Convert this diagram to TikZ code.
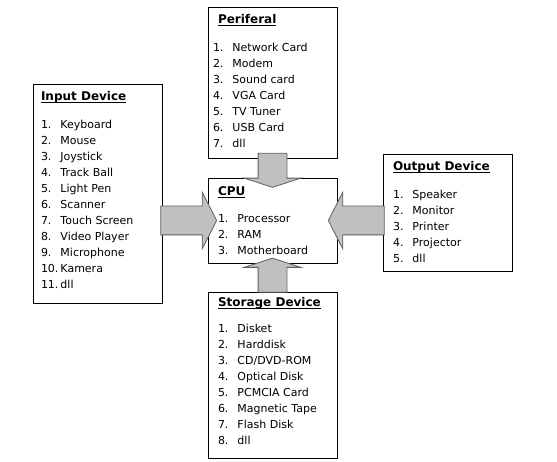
\documentclass[tikz,border=0pt]{standalone}
\usepackage{fontspec}
\setmainfont{DejaVu Sans}
\usetikzlibrary{calc,shapes.arrows}

\definecolor{arrowfill}{HTML}{C0C0C0}
\definecolor{arrowline}{HTML}{5F5F5F}

\newsavebox{\titlebox}
\newcommand{\boxtitle}[1]{\sbox{\titlebox}{\fontsize{12pt}{16pt}\selectfont\textbf{#1}}\usebox{\titlebox}\llap{\rule[-2pt]{\wd\titlebox}{0.8pt}}}
\newcommand{\devitem}[2]{\makebox[19.5pt][l]{#1}#2}

\begin{document}
\begin{tikzpicture}[x=1pt,y=-1pt,
    devbox/.style={draw, line width=0.9pt, inner sep=0pt, minimum width=129pt,
        font=\fontsize{11pt}{16pt}\selectfont},
    blockarrow/.style={single arrow, draw=arrowline, fill=arrowfill, line width=0.8pt,
        inner xsep=0pt, inner ysep=14pt, single arrow head extend=14pt},
    uparrow/.style={blockarrow, inner xsep=14pt, inner ysep=0pt}]
    \useasboundingbox (0,0) rectangle (557,462);

    % the five boxes
    \node[devbox, minimum height=151pt] (per) at (272.5,82.5) {\parbox[t][151pt][t]{119pt}{\vspace*{7.5pt}%
        \hspace*{5pt}\boxtitle{Periferal}\\[12pt]
        \devitem{1.}{Network Card}\\
        \devitem{2.}{Modem}\\
        \devitem{3.}{Sound card}\\
        \devitem{4.}{VGA Card}\\
        \devitem{5.}{TV Tuner}\\
        \devitem{6.}{USB Card}\\
        \devitem{7.}{dll}}};
    \node[devbox, minimum height=219pt] (inp) at (97.5,193.5) {\parbox[t][219pt][t]{113pt}{\vspace*{7.5pt}%
        \boxtitle{Input Device}\\[12pt]
        \devitem{1.}{Keyboard}\\
        \devitem{2.}{Mouse}\\
        \devitem{3.}{Joystick}\\
        \devitem{4.}{Track Ball}\\
        \devitem{5.}{Light Pen}\\
        \devitem{6.}{Scanner}\\
        \devitem{7.}{Touch Screen}\\
        \devitem{8.}{Video Player}\\
        \devitem{9.}{Microphone}\\
        \devitem{10.}{Kamera}\\
        \devitem{11.}{dll}}};
    \node[devbox, minimum height=85pt] (cpu) at (272.5,220.5) {\parbox[t][85pt][t]{109pt}{\vspace*{8.5pt}%
        \boxtitle{CPU}\\[11pt]
        \devitem{1.}{Processor}\\
        \devitem{2.}{RAM}\\
        \devitem{3.}{Motherboard}}};
    \node[devbox, minimum height=117pt] (out) at (447.5,212.5) {\parbox[t][117pt][t]{109pt}{\vspace*{7.5pt}%
        \boxtitle{Output Device}\\[12pt]
        \devitem{1.}{Speaker}\\
        \devitem{2.}{Monitor}\\
        \devitem{3.}{Printer}\\
        \devitem{4.}{Projector}\\
        \devitem{5.}{dll}}};
    \node[devbox, minimum height=166pt] (sto) at (272.5,375) {\parbox[t][166pt][t]{109pt}{\vspace*{5.5pt}%
        \boxtitle{Storage Device}\\[10pt]
        \devitem{1.}{Disket}\\
        \devitem{2.}{Harddisk}\\
        \devitem{3.}{CD/DVD-ROM}\\
        \devitem{4.}{Optical Disk}\\
        \devitem{5.}{PCMCIA Card}\\
        \devitem{6.}{Magnetic Tape}\\
        \devitem{7.}{Flash Disk}\\
        \devitem{8.}{dll}}};

    % block arrows into the CPU
    \node[uparrow, minimum height=34pt, single arrow tip angle=144,
        shape border rotate=270] (pertocpu) at ($(per.south)!0.5!(cpu.north)$) {};
    \node[uparrow, minimum height=34pt, single arrow tip angle=144,
        shape border rotate=90] (stotocpu) at ($(cpu.south)!0.5!(sto.north)$) {};
    \node[blockarrow, minimum height=56pt, single arrow tip angle=126,
        shape border rotate=0] (inptocpu) at ($(inp.east |- cpu.center)!0.5!(cpu.west)$) {};
    \node[blockarrow, minimum height=56pt, single arrow tip angle=126,
        shape border rotate=180] (outtocpu) at ($(cpu.east)!0.5!(out.west |- cpu.center)$) {};
\end{tikzpicture}
\end{document}
